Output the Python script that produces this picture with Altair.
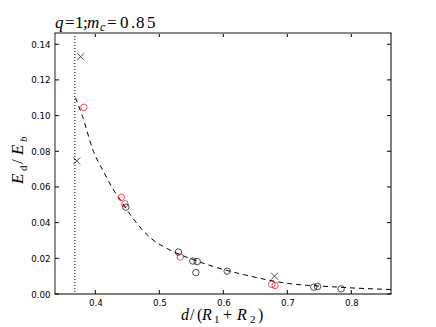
import altair as alt
import pandas as pd

# ---- data ----
cross_x = [0.371, 0.377, 0.680]
cross_y = [0.0746, 0.133, 0.0100]

red_x = [0.3822, 0.4406, 0.4462, 0.5327, 0.6757, 0.6808]
red_y = [0.1046, 0.0542, 0.0505, 0.0207, 0.0054, 0.0048]

black_x = [0.4476, 0.5299, 0.5524, 0.5592, 0.5571, 0.6060, 0.7413, 0.7472, 0.7841]
black_y = [0.0487, 0.0235, 0.0185, 0.0182, 0.0120, 0.0128, 0.0038, 0.0042, 0.0029]

curve_x = [0.369, 0.380, 0.397, 0.413, 0.4285, 0.44, 0.457, 0.486, 0.512, 0.548, 0.590, 0.640, 0.694, 0.777, 0.862]
curve_y = [0.110, 0.0995, 0.080, 0.0685, 0.0583, 0.0523, 0.0433, 0.0315, 0.0255, 0.0199, 0.0148, 0.0102, 0.0063, 0.0039, 0.0025]

vline_x = [0.368]

x_ticks = [0.4, 0.5, 0.6, 0.7, 0.8]
y_ticks = [0.0, 0.02, 0.04, 0.06, 0.08, 0.10, 0.12, 0.14]

X_DOMAIN = [0.337, 0.862]
Y_DOMAIN = [0.0, 0.1463]

W, H = 336, 261

xs = alt.Scale(domain=X_DOMAIN, nice=False, zero=False)
ys = alt.Scale(domain=Y_DOMAIN, nice=False, zero=False)

X_AXIS = alt.Axis(values=x_ticks, format=".1f", labelPadding=4)
Y_AXIS = alt.Axis(values=y_ticks, format=".2f", labelPadding=5)


def X(field="x"):
    return alt.X(f"{field}:Q", scale=xs, title=None, axis=X_AXIS)


def Y(field="y"):
    return alt.Y(f"{field}:Q", scale=ys, title=None, axis=Y_AXIS)


SERIF = "Liberation Serif"

pts = pd.concat([
    pd.DataFrame({"x": red_x, "y": red_y, "kind": "red"}),
    pd.DataFrame({"x": black_x, "y": black_y, "kind": "black"}),
])

curve = pd.DataFrame({"x": curve_x, "y": curve_y})

one = pd.DataFrame({"k": [1]})

# frame: four filled strips along the plot edges
top_strip = alt.Chart(one).mark_rect(color="#8a8a8a").encode(
    x=alt.value(-0.5), x2=alt.value(W + 0.5), y=alt.value(-1), y2=alt.value(1))
bottom_strip = alt.Chart(one).mark_rect(color="#000000").encode(
    x=alt.value(-0.5), x2=alt.value(W + 0.5), y=alt.value(H - 0.5), y2=alt.value(H + 0.5))
left_strip = alt.Chart(one).mark_rect(color="#222222").encode(
    x=alt.value(-0.5), x2=alt.value(0.5), y=alt.value(0), y2=alt.value(H))
right_strip = alt.Chart(one).mark_rect(color="#000000").encode(
    x=alt.value(W - 0.5), x2=alt.value(W + 0.5), y=alt.value(0), y2=alt.value(H))

curve_layer = alt.Chart(curve).mark_line(color="black", strokeWidth=1, strokeDash=[5, 4],
                                         interpolate="monotone").encode(x=X(), y=Y())

vline = alt.Chart(pd.DataFrame({"x": vline_x})).mark_rule(color="black", strokeWidth=1,
                                                        strokeDash=[1, 2]).encode(x=X())

circles = alt.Chart(pts).mark_point(shape="circle", filled=False, size=42, strokeWidth=1).encode(
    x=X(), y=Y(),
    color=alt.Color("kind:N", scale=alt.Scale(domain=["red", "black"], range=["#ff0000", "#000000"]),
                    legend=None))

crosses = alt.Chart(pd.DataFrame({"x": cross_x, "y": cross_y})).mark_point(
    shape="M-1,-1L1,1M-1,1L1,-1", filled=False, size=49, strokeWidth=1, color="black").encode(
    x=X(), y=Y())

# inner ticks
xt = pd.DataFrame({"x": x_ticks})
yt = pd.DataFrame({"y": y_ticks})
tick_bottom = alt.Chart(xt).mark_rule(color="black", strokeWidth=1).encode(
    x=X(), y=alt.value(H), y2=alt.value(H - 4))
tick_top = alt.Chart(xt).mark_rule(color="black", strokeWidth=1).encode(
    x=X(), y=alt.value(0), y2=alt.value(4))
tick_left = alt.Chart(yt).mark_rule(color="black", strokeWidth=1).encode(
    y=Y(), x=alt.value(0), x2=alt.value(4))
tick_right = alt.Chart(yt).mark_rule(color="black", strokeWidth=1).encode(
    y=Y(), x=alt.value(W), x2=alt.value(W - 4))


def piece(text, x, y, size=15, italic=False, angle=0):
    kw = dict(text=text, align="left", baseline="alphabetic", font=SERIF, fontSize=size, color="black")
    if italic:
        kw["fontStyle"] = "italic"
    if angle:
        kw["angle"] = angle
    return alt.Chart(pd.DataFrame({"t": [text]})).mark_text(**kw).encode(
        x=alt.value(x), y=alt.value(y))

# title: q = 1; m_c = 0.85
title_pieces = [
    piece("q", 0, -5, 17, True),
    piece("=", 10, -5, 17),
    piece("1", 20, -5, 17),
    piece(";", 28, -5, 17),
    piece("m", 32, -5, 17, True),
    piece("c", 45, -2, 12, True),
    piece("=", 52, -5, 17),
    piece("0", 65, -5, 17),
    piece(".", 76, -5, 17),
    piece("8", 81, -5, 17),
    piece("5", 92, -5, 17),
]

# x label: d/(R_1 + R_2)
xl_pieces = [
    piece("d", 126, 287, 16, True),
    piece("/", 135, 287, 16),
    piece("(", 142, 287, 16),
    piece("R", 147, 287, 16, True),
    piece("1", 159, 290, 11),
    piece("+", 168, 287, 16),
    piece("R", 182, 287, 16, True),
    piece("2", 195, 290, 11),
    piece(")", 203, 287, 16),
]

# y label: E_d / E_b (rotated)
yl_pieces = [
    piece("E", -32, 151, 17, True, 270),
    piece("d", -28, 138, 11, False, 270),
    piece("/", -32, 131, 17, False, 270),
    piece("E", -32, 122, 17, True, 270),
    piece("b", -28, 109, 11, True, 270),
]

chart = alt.layer(
    vline, curve_layer, circles, crosses,
    tick_bottom, tick_top, tick_left, tick_right,
    top_strip, bottom_strip, left_strip, right_strip,
    *title_pieces, *xl_pieces, *yl_pieces,
).properties(
    width=W, height=H,
    autosize=alt.AutoSizeParams(type="none"),
    padding={"left": 47, "top": 25, "right": 37, "bottom": 30},
).configure(background="white").configure_view(stroke=None).configure_axis(
    domain=False, ticks=False, grid=False, labelOverlap=False,
    labelFont="DejaVu Sans", labelFontSize=8.7, labelColor="#000000",
)

chart.save("out.html", embed_options={"renderer": "svg", "actions": False})
